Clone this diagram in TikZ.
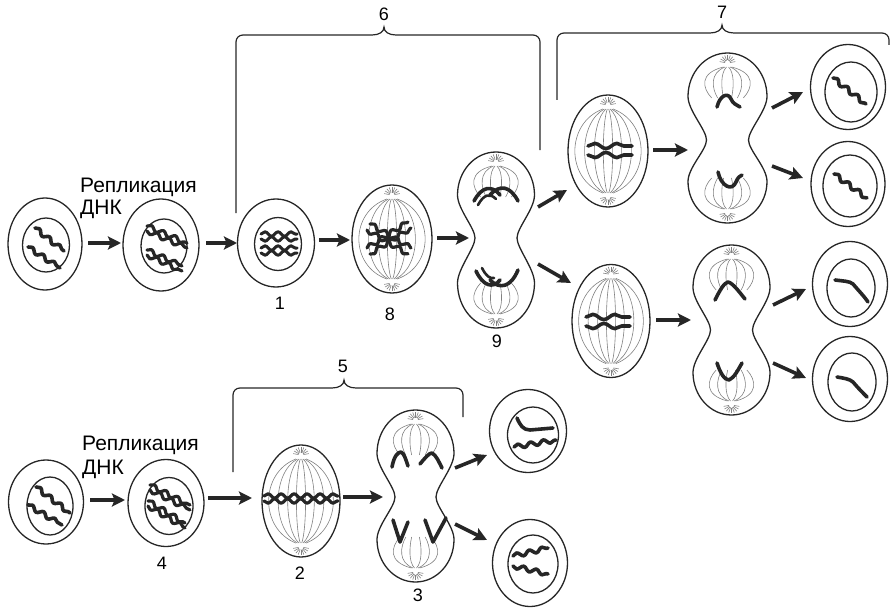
\documentclass[tikz,border=0pt]{standalone}
\usepackage{fontspec}
\setmainfont{Liberation Sans}
\usetikzlibrary{shapes.geometric,arrows.meta,decorations.pathmorphing}

\tikzset{
 outline/.style={draw=black!85, line width=1.3pt},
 cellout/.style={ellipse, outline, inner sep=0pt, outer sep=0pt},
 fiber/.style={draw=black!50, line width=0.6pt},
 chrom/.style={draw=black!85, line width=3.6pt, line cap=round, line join=round},
 wave/.style={chrom, decorate, decoration={snake, amplitude=2.2pt, segment length=13pt}},
 wavem/.style={chrom, decorate, decoration={snake, amplitude=2.2pt, segment length=13pt, mirror}},
 bigw/.style={chrom, decorate, decoration={snake, amplitude=2.6pt, segment length=22pt}},
 bigwm/.style={chrom, decorate, decoration={snake, amplitude=2.6pt, segment length=22pt, mirror}},
 arr/.style={draw=black!85, line width=3.6pt, -{Stealth[length=13pt,width=13pt,inset=2.5pt]}},
 brace/.style={draw=black!85, line width=1.2pt},
 num/.style={font=\fontsize{18}{18}\selectfont, inner sep=0pt},
 rep/.style={font=\fontsize{21}{21}\selectfont, inner sep=0pt, anchor=base west},
}

\newcommand{\roundcell}[9]{%
 \node[cellout, minimum width=#4pt, minimum height=#5pt] (#1) at (#2,#3) {};
 \node[cellout, minimum width=#8pt, minimum height=#9pt] (#1n) at (#6,#7) {};
}
\newcommand{\aster}[3]{%
 \foreach \ang in {10,30,...,170} {
  \draw[fiber] ({#1+2.5*cos(\ang)},{#2+#3*2.5*sin(\ang)}) -- ({#1+8*cos(\ang)},{#2+#3*8*sin(\ang)});
 }
}
\newcommand{\spindle}[4]{%
 \foreach \k in {-0.85,-0.6,-0.35,-0.12,0.12,0.35,0.6,0.85} {
  \draw[fiber] ({#1+\k*6},{#2-#4+14}) .. controls ({#1+\k*#3*1.25},{#2-#4*0.5}) and ({#1+\k*#3*1.25},{#2+#4*0.5}) .. ({#1+\k*6},{#2+#4-14});
 }
 \aster{#1}{#2-#4+10}{-1}
 \aster{#1}{#2+#4-10}{1}
}
\newcommand{\dumbbell}[6]{%
 \pgfmathsetmacro\dA{(#2+#3)/2}
 \pgfmathsetmacro\dB{(#3+#4)/2}
 \pgfmathsetmacro\dAt{\dA-0.552*(\dA-#2)}
 \pgfmathsetmacro\dBb{\dB+0.552*(#4-\dB)}
 \draw[outline] ({#1-#6},#3) .. controls ({#1-#6},{#3-10}) and ({#1-#5},{\dA+14}) .. ({#1-#5},\dA)
  .. controls ({#1-#5},\dAt) and ({#1-0.552*#5},#2) .. (#1,#2)
  .. controls ({#1+0.552*#5},#2) and ({#1+#5},\dAt) .. ({#1+#5},\dA)
  .. controls ({#1+#5},{\dA+14}) and ({#1+#6},{#3-10}) .. ({#1+#6},#3)
  .. controls ({#1+#6},{#3+10}) and ({#1+#5},{\dB-14}) .. ({#1+#5},\dB)
  .. controls ({#1+#5},\dBb) and ({#1+0.552*#5},#4) .. (#1,#4)
  .. controls ({#1-0.552*#5},#4) and ({#1-#5},\dBb) .. ({#1-#5},\dB)
  .. controls ({#1-#5},{\dB-14}) and ({#1-#6},{#3+10}) .. cycle;
}
\newcommand{\anafib}[4]{%
 \foreach \k in {-0.8,-0.5,-0.2,0.2,0.5,0.8} {
  \draw[fiber] ({#1+\k*5},{#2+14}) .. controls ({#1+\k*#4*0.9},{#2+20}) and ({#1+\k*#4*0.8},{#2+35}) .. ({#1+\k*#4*0.5},{#2+45});
  \draw[fiber] ({#1+\k*5},{#3-14}) .. controls ({#1+\k*#4*0.9},{#3-20}) and ({#1+\k*#4*0.8},{#3-35}) .. ({#1+\k*#4*0.5},{#3-45});
 }
 \aster{#1}{#2+10}{-1}
 \aster{#1}{#3-10}{1}
}
% bracket: x-left, y-left-end, x-peak, x-right, y-right-end, y-top
\newcommand{\bracket}[6]{%
 \draw[brace] (#1,#2) -- (#1,{#6+7}) .. controls (#1,{#6+3}) and ({#1+3},#6) .. ({#1+7},#6)
  -- ({#3-12},#6) .. controls ({#3-5},#6) and (#3,{#6-3}) .. (#3,{#6-8})
  .. controls (#3,{#6-3}) and ({#3+5},#6) .. ({#3+12},#6)
  -- ({#4-7},#6) .. controls ({#4-3},#6) and (#4,{#6+3}) .. (#4,{#6+7}) -- (#4,#5);
}

\begin{document}
\begin{tikzpicture}[x=1pt,y=-1pt]
\useasboundingbox (0,0) rectangle (895,610);

% ---------------- top row: meiosis ----------------
\roundcell{cA}{45}{244}{74}{92}{46}{245}{47}{54}
\draw[wave] (35,228) -- (64,251);
\draw[wave] (28,247) -- (60,268);

\node[rep] (repA) at (80,192) {Репликация};
\node[rep] (dnkA) at (80,214) {ДНК};

\roundcell{cB}{161}{245}{76}{92}{164}{246}{46}{54}
\draw[wave, line width=3.2pt] (147,226) -- (187,243);
\draw[wavem, line width=3.2pt] (147,231) -- (187,248);
\draw[wave, line width=3.2pt] (147,250) -- (182,266);
\draw[wavem, line width=3.2pt] (147,255) -- (182,271);

\roundcell{c1}{276}{243}{77}{88}{278}{244}{47}{53}
\draw[wave, line width=3pt] (261,234) -- (297,234);
\draw[wavem, line width=3pt] (261,239) -- (297,239);
\draw[wave, line width=3pt] (261,248) -- (297,248);
\draw[wavem, line width=3pt] (261,253) -- (297,253);
\node[num] (n1) at (280,303) {1};

\node[cellout, minimum width=80pt, minimum height=108pt] (c8) at (392,239) {};
\spindle{392}{239}{40}{54}
\draw[wave, line width=3.2pt] (370,224) -- (411,248);
\draw[wavem, line width=3.2pt] (367,230) -- (408,254);
\draw[wave, line width=3.2pt] (367,248) -- (408,222);
\draw[wavem, line width=3.2pt] (370,254) -- (411,228);
\node[num] (n8) at (390,314) {8};

\dumbbell{496}{152}{238}{328}{38.5}{21}
\anafib{496}{152}{328}{38.5}
\draw[chrom] (474,201) .. controls (482,186) and (492,185) .. (500,195);
\draw[chrom] (490,195) .. controls (500,184) and (510,186) .. (518,201);
\draw[chrom, line width=2.6pt] (478,205) .. controls (484,194) and (490,193) .. (496,199);
\draw[chrom] (476,271) .. controls (483,286) and (493,289) .. (500,280);
\draw[chrom] (490,280) .. controls (500,290) and (511,287) .. (518,270);
\draw[chrom, line width=2.6pt] (482,268) .. controls (486,276) and (490,279) .. (494,278);
\node[num] (n9) at (497,341) {9};

% meiosis II upper
\node[cellout, minimum width=80pt, minimum height=112pt] (MU) at (608,151) {};
\spindle{608}{151}{40}{56}
\draw[bigw] (588,146) -- (632,146);
\draw[bigwm] (588,155) -- (632,155);

\dumbbell{727.5}{53}{140}{223}{39.5}{21}
\anafib{727.5}{53}{223}{39.5}
\draw[chrom] (717,107) .. controls (720,95) and (728,92) .. (731,99) .. controls (733,104) and (737,105) .. (740,107);
\draw[chrom] (718,172) .. controls (721,186) and (732,192) .. (736,182) .. controls (738,177) and (740,176) .. (742,175);

\roundcell{dU1}{848}{87}{75}{85}{851}{92}{52}{60}
\draw[wave] (833,78) -- (866,104);
\roundcell{dU2}{848}{184}{74}{85}{850}{186}{54}{62}
\draw[wave] (834,174) -- (867,198);

% meiosis II lower
\node[cellout, minimum width=78pt, minimum height=113pt] (ML) at (611,321) {};
\spindle{611}{321}{39}{56.5}
\draw[bigw] (586,317) -- (630,317);
\draw[bigwm] (586,326) -- (630,326);

\dumbbell{731.5}{245}{330}{415}{38.5}{21}
\anafib{731.5}{245}{415}{38.5}
\draw[chrom] (715,300) .. controls (720,290) and (724,283) .. (728,282) .. controls (733,283) and (740,293) .. (745,299);
\draw[chrom] (717,363) .. controls (720,372) and (724,380) .. (729,380) .. controls (734,378) and (738,370) .. (742,363);

\roundcell{dL1}{850}{284}{75}{85}{851}{288}{48}{58}
\draw[chrom] (835,280) .. controls (842,281) and (850,281) .. (853,284) .. controls (858,290) and (864,296) .. (868,302);
\roundcell{dL2}{850}{379}{75}{85}{852}{382}{48}{58}
\draw[chrom] (837,377) .. controls (843,378) and (850,379) .. (853,382) .. controls (858,388) and (863,393) .. (867,397);

% brackets
\bracket{236}{213}{384}{540}{150}{35}
\node[num] (n6) at (384,14) {6};
\bracket{557}{100}{722}{889}{45}{33}
\node[num] (n7) at (722,12) {7};

% ---------------- bottom row: mitosis ----------------
\roundcell{cC}{46}{502}{75}{84}{50}{506}{46}{58}
\draw[wave] (36,487) -- (70,513);
\draw[wave] (28,505) -- (62,525);

\node[rep] (repB) at (82,450) {Репликация};
\node[rep] (dnkB) at (82,474) {ДНК};

\roundcell{cD}{166}{503}{76}{87}{169}{506}{48}{57}
\draw[wave, line width=3.2pt] (150,485) -- (190,505);
\draw[wavem, line width=3.2pt] (150,490) -- (190,510);
\draw[wave, line width=3.2pt] (148,501) -- (185,523);
\draw[wavem, line width=3.2pt] (148,506) -- (185,528);
\node[num] (n4) at (162,563) {4};

\node[cellout, minimum width=78pt, minimum height=112pt] (c2) at (301,501) {};
\spindle{301}{501}{39}{56}
\draw[wave, line width=3.2pt] (264,496) -- (338,496);
\draw[wavem, line width=3.2pt] (264,501) -- (338,501);
\node[num] (n2) at (300,573) {2};

\dumbbell{415.5}{410}{497}{582}{38.5}{20.5}
\anafib{415.5}{410}{582}{38.5}
\draw[chrom] (392,467) .. controls (394,456) and (398,452) .. (401,452) .. controls (404,453) and (406,460) .. (408,466);
\draw[chrom] (420,464) .. controls (425,458) and (429,453) .. (432,453) .. controls (436,455) and (439,462) .. (442,468);
\draw[chrom] (393,520) -- (400,542) -- (408,522);
\draw[chrom] (425,520) -- (433,542) -- (446,518);
\node[num] (n3) at (418,595) {3};

\roundcell{e1}{528}{431}{77}{83}{533}{435}{51}{56}
\draw[chrom] (517,418) .. controls (520,425) and (523,430) .. (530,430) -- (553,428);
\draw[wave] (514,447) -- (556,440);
\roundcell{e2}{530}{563}{75}{87}{533}{564}{50}{58}
\draw[wave] (513,556) -- (548,548);
\draw[wavem] (513,566) -- (548,574);

\bracket{233}{472}{344}{463}{417}{388}
\node[num] (n5) at (343,366) {5};

% ---------------- arrows ----------------
\coordinate (pA1) at (88,243);   \coordinate (pB0) at (121,243);
\coordinate (pB1) at (206,243);  \coordinate (p10) at (237,243);
\coordinate (p11) at (319,240);  \coordinate (p80) at (350,240);
\coordinate (p81) at (437,238);  \coordinate (p90) at (469,238);
\coordinate (p9u) at (538,207);  \coordinate (pMU0) at (567,190);
\coordinate (p9l) at (538,264);  \coordinate (pML0) at (571,283);
\coordinate (pMU1) at (653,150); \coordinate (pAU0) at (688,150);
\coordinate (pAUa) at (772,108); \coordinate (pdU1) at (803,92);
\coordinate (pAUb) at (772,166); \coordinate (pdU2) at (803,178);
\coordinate (pML1) at (656,320); \coordinate (pAL0) at (691,320);
\coordinate (pALa) at (773,305); \coordinate (pdL1) at (806,289);
\coordinate (pALb) at (773,363); \coordinate (pdL2) at (806,378);
\coordinate (pC1) at (90,500);   \coordinate (pD0) at (125,500);
\coordinate (pD1) at (208,498);  \coordinate (p20) at (252,498);
\coordinate (p21) at (343,497);  \coordinate (p30) at (383,497);
\coordinate (p3a) at (455,468);  \coordinate (pe1) at (487,455);
\coordinate (p3b) at (455,524);  \coordinate (pe2) at (487,540);

\draw[arr] (pA1) -- (pB0);
\draw[arr] (pB1) -- (p10);
\draw[arr] (p11) -- (p80);
\draw[arr] (p81) -- (p90);
\draw[arr] (p9u) -- (pMU0);
\draw[arr] (p9l) -- (pML0);
\draw[arr] (pMU1) -- (pAU0);
\draw[arr] (pAUa) -- (pdU1);
\draw[arr] (pAUb) -- (pdU2);
\draw[arr] (pML1) -- (pAL0);
\draw[arr] (pALa) -- (pdL1);
\draw[arr] (pALb) -- (pdL2);
\draw[arr] (pC1) -- (pD0);
\draw[arr] (pD1) -- (p20);
\draw[arr] (p21) -- (p30);
\draw[arr] (p3a) -- (pe1);
\draw[arr] (p3b) -- (pe2);
\end{tikzpicture}
\end{document}
